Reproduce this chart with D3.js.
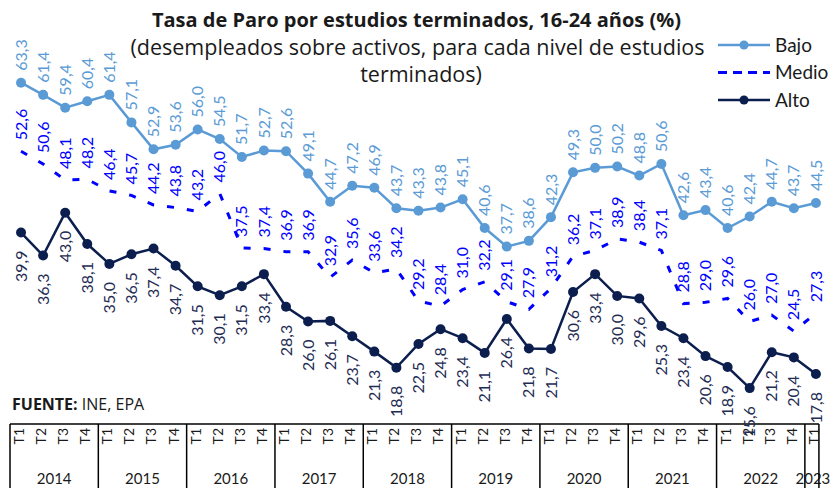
<!DOCTYPE html>
<html><head><meta charset="utf-8">
<script src="https://cdn.jsdelivr.net/npm/d3@7"></script>
<style>
body{margin:0;background:#fff;}
svg{display:block;font-family:Lato, "Open Sans", sans-serif;}
</style></head>
<body><svg id="c" width="836" height="488"></svg>
<script>
const years = ["2014","2015","2016","2017","2018","2019","2020","2021","2022","2023"];
const quarters = ["T1","T2","T3","T4"];
const bajo = [63.3,61.4,59.4,60.4,61.4,57.1,52.9,53.6,56.0,54.5,51.7,52.7,52.6,49.1,44.7,47.2,46.9,43.7,43.3,43.8,45.1,40.6,37.7,38.6,42.3,49.3,50.0,50.2,48.8,50.6,42.6,43.4,40.6,42.4,44.7,43.7,44.5];
const medio = [52.6,50.6,48.1,48.2,46.4,45.7,44.2,43.8,43.2,46.0,37.5,37.4,36.9,36.9,32.9,35.6,33.6,34.2,29.2,28.4,31.0,32.2,29.1,27.9,31.2,36.2,37.1,38.9,38.4,37.1,28.8,29.0,29.6,26.0,27.0,24.5,27.3];
const alto = [39.9,36.3,43.0,38.1,35.0,36.5,37.4,34.7,31.5,30.1,31.5,33.4,28.3,26.0,26.1,23.7,21.3,18.8,22.5,24.8,23.4,21.1,26.4,21.8,21.7,30.6,33.4,30.0,29.6,25.3,23.4,20.6,18.9,15.6,21.2,20.4,17.8];
const seriesNames = ["Bajo","Medio","Alto"];
const titleLines = ["Tasa de Paro por estudios terminados, 16-24 años (%)","(desempleados sobre activos, para cada nivel de estudios","terminados)"];
const source = ["FUENTE:"," INE, EPA"];

const cats = [];
years.forEach((y,yi)=>{ quarters.forEach(q=>{ if(cats.length<bajo.length) cats.push(y+"-"+q); }); });

const svg = d3.select("#c");
const x = d3.scaleBand().domain(cats).range([10, 10+37*22.08]).padding(0);
const cx = d => x(d)+x.bandwidth()/2;
const y = d3.scaleLinear().domain([0,70]).range([488,39.8]);

const colors = {Bajo:"#5b9bd5", Medio:"#0000ff", Alto:"#0c1e4e"};
const labelColors = {Bajo:"#5b9bd5", Medio:"#0000ff", Alto:"#1f2d55"};
const fmt = v => v.toFixed(1).replace(".", ",");

const series = [
  {name:"Medio", vals:medio},
  {name:"Bajo", vals:bajo},
  {name:"Alto", vals:alto}
];
const line = d3.line().x((d,i)=>cx(cats[i])).y(d=>y(d));

// table (drawn first so labels overlap it)
const tableTop = 424;
const tb = svg.append("g");
const lastX = cx(cats[cats.length-1])+3;
tb.append("line").attr("x1",x(cats[0])).attr("x2",lastX).attr("y1",tableTop).attr("y2",tableTop).attr("stroke","#000").attr("stroke-width",1.5);
years.forEach((yr,yi)=>{
  const inYear = cats.filter(c=>c.startsWith(yr));
  const x0 = x(inYear[0]);
  const x1 = yr===years[years.length-1] ? lastX : x(inYear[inYear.length-1])+x.bandwidth();
  tb.append("line").attr("x1",x0).attr("x2",x0).attr("y1",tableTop).attr("y2",488).attr("stroke","#000").attr("stroke-width",1.5);
  tb.append("text").attr("x",(x0+x1)/2 + (yr==="2023"?1:0)).attr("y",484).attr("text-anchor","middle").attr("font-size",15).attr("fill","#1a1a1a").text(yr);
});
tb.append("line").attr("x1",lastX).attr("x2",lastX).attr("y1",tableTop).attr("y2",488).attr("stroke","#000").attr("stroke-width",1.5);
tb.selectAll("text.q").data(cats).join("text").attr("class","q")
  .attr("transform",c=>`translate(${cx(c)-2},${tableTop+4}) rotate(-90)`)
  .attr("dy","0.35em").attr("text-anchor","end").attr("font-size",14).attr("fill","#1a1a1a")
  .text(c=>c.split("-")[1]);

series.forEach(s=>{
  svg.append("path").datum(s.vals).attr("d", line)
    .attr("fill","none").attr("stroke", colors[s.name])
    .attr("stroke-width", s.name==="Medio"?3:2.5)
    .attr("stroke-dasharray", s.name==="Medio"?"7,13":null);
  if(s.name!=="Medio"){
    svg.append("g").selectAll("circle").data(s.vals).join("circle")
      .attr("cx",(d,i)=>cx(cats[i])).attr("cy",d=>y(d)).attr("r",5)
      .attr("fill",colors[s.name]);
  }
});

// labels
series.forEach(s=>{
  const g = svg.append("g").attr("font-size",16).attr("fill",labelColors[s.name]);
  g.selectAll("text").data(s.vals).join("text")
    .attr("transform",(d,i)=>{
      const px = cx(cats[i]);
      const py = s.name==="Alto" ? y(d)+18 : y(d)-(s.name==="Bajo"?12:11);
      return `translate(${px},${py}) rotate(-90)`;
    })
    .attr("dy","0.35em")
    .attr("text-anchor", s.name==="Alto"?"end":"start")
    .text(d=>fmt(d));
});

// title
const t = svg.append("g").attr("text-anchor","middle").attr("fill","#1a1a1a")
  .style("font-family","'Open Sans', sans-serif");
const tx = [416.5, 417.5, 421];
const tfs = [20, 21.5, 21.5];
titleLines.forEach((l,i)=>{
  t.append("text").attr("x",tx[i]).attr("y",27+i*27.5).attr("font-size",tfs[i])
   .attr("font-weight", i===0?"bold":"normal").text(l);
});

// legend
const lg = svg.append("g");
seriesNames.forEach((n,i)=>{
  const ly = 45 + i*27.5;
  lg.append("line").attr("x1",718).attr("x2",770).attr("y1",ly).attr("y2",ly)
    .attr("stroke",colors[n]).attr("stroke-width", n==="Medio"?3:2.5)
    .attr("stroke-dasharray", n==="Medio"?"9,6":null);
  if(n!=="Medio") lg.append("circle").attr("cx",744).attr("cy",ly).attr("r",4.5).attr("fill",colors[n]);
  lg.append("text").attr("x",775).attr("y",ly+6.5).attr("font-size",19).attr("fill","#1a1a1a").text(n);
});

// source
const st = svg.append("text").attr("x",12).attr("y",410).attr("font-size",16).attr("fill","#1a1a1a")
  .style("font-family","'Open Sans', sans-serif");
st.append("tspan").attr("font-weight","bold").text(source[0]);
st.append("tspan").text(source[1]);
</script></body></html>
